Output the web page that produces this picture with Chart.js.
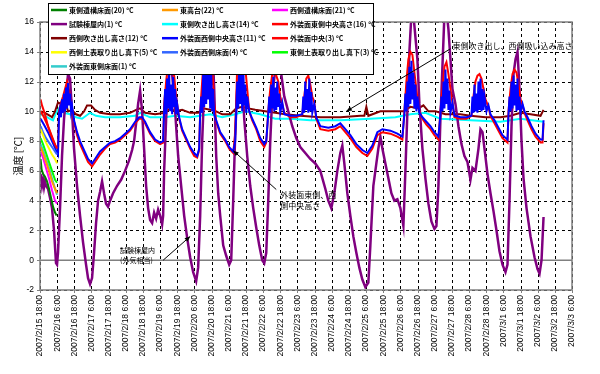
<!DOCTYPE html>
<html>
<head>
<meta charset="utf-8">
<script src="https://cdn.jsdelivr.net/npm/chart.js@4/dist/chart.umd.min.js"></script>
<style>
  html, body { margin: 0; padding: 0; background: #fff; }
  #wrap { width: 600px; height: 374px; }
</style>
</head>
<body>
<div id="wrap"><canvas id="chart" width="600" height="374"></canvas></div>
<script>
// x = hours since 2007/2/15 18:00, y = temperature in degC

const tickLabels = [
  '2007/2/15 18:00', '2007/2/16 6:00', '2007/2/16 18:00', '2007/2/17 6:00', '2007/2/17 18:00',
  '2007/2/18 6:00', '2007/2/18 18:00', '2007/2/19 6:00', '2007/2/19 18:00', '2007/2/20 6:00',
  '2007/2/20 18:00', '2007/2/21 6:00', '2007/2/21 18:00', '2007/2/22 6:00', '2007/2/22 18:00',
  '2007/2/23 6:00', '2007/2/23 18:00', '2007/2/24 6:00', '2007/2/24 18:00', '2007/2/25 6:00',
  '2007/2/25 18:00', '2007/2/26 6:00', '2007/2/26 18:00', '2007/2/27 6:00', '2007/2/27 18:00',
  '2007/2/28 6:00', '2007/2/28 18:00', '2007/3/1 6:00', '2007/3/1 18:00', '2007/3/2 6:00',
  '2007/3/2 18:00', '2007/3/3 6:00'
];
const yTicks = [-2, 0, 2, 4, 6, 8, 10, 12, 14, 16];

const seriesNames = [
  '東側遺構床面(20) °C', '東高台(22) °C', '西側遺構床面(21) °C',
  '試験棟屋内(1) °C', '東側吹き出し高さ(14) °C', '外装面東側中央高さ(16) °C',
  '西側吹き出し高さ(12) °C', '外装面西側中央高さ(11) °C', '外装面中央(3) °C',
  '西側土表取り出し真下(5) °C', '外装面西側床面(4) °C', '東側土表取り出し真下(3) °C',
  '外装面東側床面(1) °C'
];

const eastFloor = [[0.4,6.8],[1.1,6.1],[2.1,5.8],[3.5,5.6],[4.9,5.3],[6.3,4.8],[7.7,4.2],[9.1,3.6],[10.5,3.2],[11.6,3.0]];
const eastHigh = [[0.4,7.6],[2.1,7.2],[4.2,6.6],[6.3,6.0],[8.4,5.3],[10.5,4.8],[11.9,4.5]];
const westFloor = [[0.4,7.3],[2.1,6.9],[4.2,6.2],[6.3,5.5],[8.4,4.7],[10.5,4.0],[11.9,3.8]];

const indoor = [
  [0.4,5.8],[1.4,5.0],[2.1,5.4],[2.8,4.9],[3.5,5.3],[4.2,5.0],[5.6,4.8],[7.0,4.2],[8.4,3.5],[9.8,2.0],
  [11.2,-0.2],[11.9,-0.3],[12.6,0.5],[14.0,3.5],[15.4,7.0],[16.8,9.5],[18.2,11.0],[19.6,12.5],[21.0,12.2],
  [22.4,10.0],[23.8,7.5],[25.9,5.0],[28.0,3.0],[30.1,1.2],[32.2,-0.3],[33.6,-1.2],[35.0,-1.6],[36.4,-1.2],
  [37.8,0.5],[39.2,2.5],[40.6,4.0],[42.0,4.6],[43.4,5.3],[44.8,4.5],[46.2,3.8],[47.6,3.6],[49.0,4.0],
  [51.1,4.5],[53.9,5.0],[56.7,5.4],[59.5,6.0],[62.3,6.7],[64.4,7.4],[65.8,8.0],[67.2,9.2],[68.6,10.5],
  [70.0,11.4],[71.4,10.0],[72.8,7.5],[74.2,5.0],[75.6,3.5],[77.0,2.7],[78.4,2.5],[79.8,3.2],[81.2,2.8],
  [82.6,3.4],[84.0,3.0],[85.4,2.4],[86.1,3.0],[86.8,6.0],[88.2,9.5],[89.6,12.0],[91.0,13.0],[92.4,12.5],
  [94.5,10.0],[96.6,7.0],[98.7,5.0],[100.8,3.0],[102.9,1.5],[105.0,0.2],[107.1,-0.8],[109.2,-1.4],
  [110.6,-0.5],[112.0,3.0],[113.4,8.0],[114.8,11.5],[116.2,13.5],[117.6,15.0],[119.0,15.8],[120.4,15.0],
  [121.8,11.5],[123.2,7.0],[124.6,4.5],[126.0,3.0],[128.1,1.0],[130.2,0.3],[132.3,-0.3],[133.7,0.0],
  [135.1,4.0],[136.5,8.5],[137.9,11.5],[140.0,12.8],[141.4,12.0],[142.8,9.5],[144.9,7.0],[147.0,5.0],
  [149.1,3.5],[151.2,2.2],[153.3,1.0],[155.4,0.0],[156.8,-0.2],[158.2,0.5],[159.6,4.0],[161.0,8.0],
  [162.4,11.0],[164.5,12.8],[166.6,13.5],[168.7,12.5],[170.8,11.0],[173.6,10.0],[176.4,9.0],[179.2,8.2],
  [182.0,7.6],[185.5,7.2],[189.0,6.8],[192.5,6.5],[196.0,6.0],[199.5,4.8],[201.6,4.0],[203.7,3.5],
  [205.8,4.5],[207.9,6.0],[210.0,7.2],[211.4,7.7],[212.8,6.5],[214.9,4.5],[217.0,3.0],[219.1,1.6],
  [221.2,0.5],[223.3,-0.5],[225.4,-1.3],[227.5,-1.8],[229.6,-1.5],[231.0,1.0],[233.1,5.0],[235.2,6.5],
  [236.6,7.5],[238.0,8.3],[239.4,7.5],[241.5,6.5],[243.6,5.5],[245.7,4.5],[247.8,4.0],[249.9,4.1],
  [252.0,3.5],[254.1,2.3],[255.5,6.0],[256.9,10.0],[258.3,14.0],[259.7,16.5],[261.1,16.5],[262.5,15.0],
  [263.9,13.5],[265.3,10.5],[267.4,7.5],[269.5,5.5],[271.6,3.8],[273.7,2.6],[275.8,2.1],[277.2,2.3],
  [278.6,5.0],[280.0,9.5],[281.4,13.0],[282.8,16.5],[284.2,16.8],[285.6,15.5],[287.0,13.5],[288.4,11.5],
  [290.5,10.5],[292.6,9.0],[294.7,7.8],[296.8,7.0],[298.9,6.6],[300.3,5.8],[301.0,5.4],[302.4,6.2],
  [304.5,6.0],[306.6,7.5],[308.0,8.8],[309.4,8.6],[310.8,7.5],[312.9,5.8],[315.0,4.5],[317.1,3.3],
  [319.2,2.0],[321.3,0.6],[323.4,-0.3],[325.5,-0.8],[326.9,-0.3],[328.3,4.0],[329.7,9.0],[331.1,12.5],
  [332.5,13.5],[333.9,14.0],[335.3,11.5],[336.7,8.0],[338.1,5.5],[340.2,3.5],[343.0,1.6],[345.8,0.2],
  [347.9,-0.6],[349.3,-0.9],[350.7,0.0],[352.1,2.9]
];

const eastOutlet = [
  [0.4,9.8],[3.5,9.7],[7.0,9.5],[9.1,9.4],[11.2,9.9],[14.0,10.3],[16.8,9.9],[21.0,9.8],[25.2,9.6],
  [29.4,9.5],[35.0,9.9],[39.2,9.7],[45.5,9.6],[56.0,9.6],[66.5,9.7],[70.0,9.9],[77.0,9.6],[87.5,9.6],
  [94.5,9.7],[105.0,9.6],[112.0,9.7],[119.0,9.8],[127.4,9.6],[136.5,9.8],[143.5,10.0],[154.0,9.8],
  [164.5,9.5],[175.0,9.5],[189.0,9.4],[210.0,9.4],[231.0,9.5],[248.5,9.6],[259.0,9.8],[269.5,9.9],
  [280.0,9.5],[301.0,9.4],[322.0,9.3],[336.0,9.5],[352.1,9.3]
];

const outerEastMid = [
  [0.4,10.0],[2.8,9.6],[5.6,9.0],[8.4,8.3],[11.2,7.6],[12.6,7.5],[13.3,10.0],[14.7,10.6],[16.1,11.0],
  [17.5,11.5],[18.9,12.0],[20.3,11.4],[21.7,10.6],[22.4,10.2],[23.8,9.3],[25.9,8.4],[28.0,7.8],[30.8,7.2],
  [33.6,6.6],[36.4,6.3],[38.5,6.6],[42.0,7.1],[45.5,7.5],[49.0,7.8],[52.5,7.9],[56.0,8.1],[59.5,8.4],
  [63.0,8.7],[66.5,9.2],[69.3,9.5],[71.4,9.5],[73.5,9.2],[77.0,8.5],[80.5,8.0],[84.0,7.8],[86.1,7.9],
  [86.8,10.5],[88.2,12.0],[89.6,13.2],[91.0,13.6],[92.4,12.8],[93.8,12.4],[95.2,11.0],[96.6,10.0],
  [97.3,9.5],[99.4,8.7],[102.2,8.1],[105.0,7.5],[107.8,7.0],[109.9,6.9],[111.3,7.4],[112.0,10.0],
  [113.4,12.0],[114.8,14.0],[116.2,15.2],[117.6,15.8],[119.0,14.6],[120.4,13.0],[121.8,10.5],[123.2,9.3],
  [126.0,8.5],[129.5,8.0],[132.3,7.5],[135.1,7.2],[136.5,8.5],[137.9,13.0],[139.3,15.5],[140.7,16.5],
  [142.1,15.0],[143.5,13.0],[144.9,11.5],[146.3,10.0],[148.4,9.4],[151.2,8.8],[154.0,8.0],[156.8,7.6],
  [158.2,7.9],[159.6,10.0],[161.0,11.5],[162.4,12.5],[163.8,12.8],[165.2,12.4],[166.6,12.0],[168.0,11.0],
  [169.4,10.5],[170.8,9.9],[175.0,9.6],[179.2,9.6],[183.4,9.8],[184.8,11.0],[186.2,12.2],[187.6,12.4],
  [189.0,11.8],[190.4,11.0],[191.8,10.6],[193.2,9.5],[196.0,8.8],[201.6,8.7],[206.5,8.8],[210.0,9.0],
  [213.5,8.6],[217.0,8.2],[221.2,7.6],[225.4,7.2],[228.9,7.0],[232.4,7.5],[235.9,8.4],[239.4,8.6],
  [245.0,8.5],[249.9,8.3],[253.4,8.1],[254.8,10.0],[256.2,12.0],[257.6,13.5],[259.0,14.0],[260.4,13.8],
  [261.8,12.6],[263.2,11.5],[264.6,10.2],[267.4,9.5],[270.2,9.1],[273.0,8.8],[275.8,8.4],[278.6,8.1],
  [280.0,10.0],[281.4,11.5],[282.8,13.0],[284.2,13.3],[285.6,12.5],[287.0,11.5],[288.4,10.6],[289.8,9.6],
  [294.0,9.5],[298.2,9.5],[301.7,9.7],[303.1,11.0],[304.5,12.0],[305.9,12.4],[307.3,12.5],[308.7,12.2],
  [310.1,11.5],[311.5,10.8],[313.6,10.3],[315.0,9.7],[317.8,9.2],[320.6,8.7],[323.4,8.2],[326.9,7.9],
  [327.6,10.0],[329.0,11.5],[330.4,12.5],[331.8,12.8],[333.2,12.6],[334.6,11.8],[336.0,10.8],[337.4,10.4],
  [338.8,9.9],[340.9,9.4],[343.7,8.8],[346.5,8.3],[350.0,7.9],[351.4,7.9],[352.1,9.2]
];

const westOutlet = [
  [0.4,10.0],[3.5,9.9],[7.0,9.7],[8.4,9.6],[10.5,10.0],[12.6,10.6],[14.7,10.5],[16.1,10.2],[18.2,10.5],
  [19.6,10.0],[22.4,10.1],[25.2,9.8],[28.0,9.7],[30.8,10.0],[32.9,10.4],[35.7,10.4],[38.5,10.1],[42.0,9.9],
  [49.0,9.8],[56.0,9.8],[63.0,9.9],[67.2,10.1],[70.0,10.2],[73.5,9.9],[80.5,9.8],[87.5,9.9],[91.0,10.2],
  [94.5,10.0],[99.4,10.1],[105.0,9.9],[110.6,9.9],[114.1,10.2],[119.0,10.1],[123.2,10.0],[127.4,9.8],
  [133.0,9.8],[137.2,10.2],[141.4,10.3],[145.6,10.2],[150.5,10.1],[157.5,10.0],[164.5,9.9],[171.5,9.8],
  [182.0,9.7],[196.0,9.6],[210.0,9.6],[224.0,9.7],[226.8,9.7],[228.2,10.3],[229.6,9.7],[238.0,10.0],
  [248.5,10.0],[254.1,10.0],[259.0,10.3],[264.6,10.2],[268.1,10.4],[271.6,10.0],[276.5,10.0],[283.5,9.8],
  [294.0,9.8],[301.0,9.7],[311.5,9.6],[322.0,9.6],[329.0,9.7],[336.0,9.9],[343.0,9.8],[350.0,9.7],[352.1,10.1]
];

const outerWestMid = [
  [0.4,9.5],[2.8,9.1],[5.6,8.6],[8.4,8.0],[11.2,7.4],[12.6,7.1],[13.3,9.8],[14.0,10.2],[14.7,9.6],
  [15.4,10.8],[16.1,9.9],[16.8,11.2],[17.5,10.0],[18.2,11.6],[18.9,10.2],[19.6,11.9],[20.3,10.4],
  [21.0,11.2],[21.7,10.0],[22.4,10.4],[23.8,9.4],[25.9,8.6],[28.0,8.0],[30.8,7.4],[33.6,6.8],[36.4,6.5],
  [38.5,6.8],[42.0,7.3],[45.5,7.6],[49.0,7.9],[52.5,8.0],[56.0,8.2],[59.5,8.5],[63.0,8.8],[66.5,9.3],
  [69.3,9.6],[71.4,9.6],[73.5,9.3],[77.0,8.6],[80.5,8.1],[84.0,7.9],[86.1,8.0],[86.8,10.0],[87.5,11.5],
  [88.2,9.8],[88.9,12.2],[89.6,10.2],[90.3,12.6],[91.0,10.0],[91.7,11.8],[92.4,9.8],[93.1,12.3],
  [93.8,10.3],[94.5,11.5],[95.2,9.8],[95.9,10.5],[97.3,9.6],[99.4,8.8],[102.2,8.2],[105.0,7.6],
  [107.8,7.2],[109.9,7.0],[111.3,7.5],[112.0,9.8],[112.7,11.0],[113.4,9.9],[114.1,12.5],[114.8,10.3],
  [115.5,13.4],[116.2,10.5],[116.9,14.0],[117.6,10.8],[118.3,13.2],[119.0,10.2],[119.7,12.8],[120.4,10.0],
  [121.1,11.5],[121.8,9.8],[123.2,9.4],[126.0,8.6],[129.5,8.1],[132.3,7.6],[135.1,7.3],[136.5,8.0],
  [137.2,10.0],[137.9,12.0],[138.6,10.2],[139.3,13.0],[140.0,10.5],[140.7,12.6],[141.4,10.0],[142.1,13.2],
  [142.8,10.4],[143.5,11.8],[144.2,9.9],[144.9,11.0],[146.3,10.0],[148.4,9.5],[151.2,8.9],[154.0,8.2],
  [156.8,7.8],[158.2,8.0],[159.6,9.8],[160.3,11.0],[161.0,9.9],[161.7,11.8],[162.4,10.2],[163.1,12.3],
  [163.8,10.0],[164.5,11.6],[165.2,10.1],[165.9,12.0],[166.6,10.3],[167.3,11.2],[168.0,9.9],[169.4,10.6],
  [170.8,9.8],[175.0,9.7],[179.2,9.7],[183.4,9.8],[184.1,11.0],[184.8,9.9],[185.5,12.0],[186.2,10.1],
  [186.9,11.5],[187.6,9.9],[188.3,12.2],[189.0,10.0],[189.7,11.3],[190.4,9.9],[191.8,10.5],[193.2,9.6],
  [196.0,9.0],[201.6,8.9],[206.5,9.0],[210.0,9.2],[213.5,8.8],[217.0,8.4],[221.2,7.8],[225.4,7.4],
  [228.9,7.2],[232.4,7.7],[235.9,8.6],[239.4,8.8],[245.0,8.7],[249.9,8.5],[253.4,8.3],[254.8,9.8],
  [255.5,11.2],[256.2,10.0],[256.9,12.0],[257.6,10.3],[258.3,13.0],[259.0,10.5],[259.7,13.4],[260.4,10.8],
  [261.1,12.6],[261.8,10.2],[262.5,11.8],[263.2,10.0],[263.9,11.0],[265.3,9.9],[267.4,9.6],[270.2,9.3],
  [273.0,9.0],[275.8,8.6],[278.6,8.3],[280.0,9.8],[280.7,11.0],[281.4,10.0],[282.1,12.0],[282.8,10.2],
  [283.5,12.8],[284.2,10.5],[284.9,12.2],[285.6,10.1],[286.3,11.4],[287.0,9.9],[288.4,10.6],[289.8,9.7],
  [294.0,9.6],[298.2,9.6],[301.7,9.7],[302.4,11.0],[303.1,9.9],[303.8,11.8],[304.5,10.0],[305.2,11.2],
  [305.9,9.9],[306.6,12.0],[307.3,10.1],[308.0,12.2],[308.7,10.0],[309.4,11.5],[310.1,10.1],[310.8,11.0],
  [312.2,10.0],[313.6,10.4],[315.0,9.8],[317.8,9.4],[320.6,8.9],[323.4,8.4],[326.9,8.1],[327.6,9.8],
  [328.3,11.0],[329.0,10.0],[329.7,12.0],[330.4,10.2],[331.1,12.4],[331.8,10.4],[332.5,11.8],[333.2,10.0],
  [333.9,12.2],[334.6,10.1],[335.3,11.0],[336.0,9.9],[337.4,10.5],[338.8,10.0],[340.9,9.6],[343.7,9.0],
  [346.5,8.5],[350.0,8.1],[351.4,8.1],[352.1,9.4]
];

const outerMid = [[0.4,10.8],[1.4,10.4],[3.5,9.8],[5.6,9.0],[7.7,8.4],[9.8,7.9],[11.9,7.5]];
const westSoil = [[0.4,8.8],[2.1,8.4],[4.2,7.9],[6.3,7.5],[8.4,7.1],[10.5,6.8],[11.9,6.5]];
const outerWestFloor = [[0.4,9.0],[2.1,8.6],[4.2,8.2],[6.3,7.9],[8.4,7.6],[10.5,7.3],[11.9,7.1]];
const eastSoil = [[0.4,8.2],[2.1,7.8],[4.2,7.2],[6.3,6.6],[8.4,6.0],[10.5,5.4],[11.9,5.2]];
const outerEastFloor = [[0.4,7.8],[2.1,7.4],[4.2,6.8],[6.3,6.2],[8.4,5.5],[10.5,4.8],[11.9,4.4]];

const seriesData = [eastFloor, eastHigh, westFloor, indoor, eastOutlet, outerEastMid, westOutlet,
  outerWestMid, outerMid, westSoil, outerWestFloor, eastSoil, outerEastFloor];
const colors = ['#008000', '#ff9900', '#ff00ff', '#800080', '#00ffff', '#ff0000', '#800000',
  '#0000ff', '#ff0000', '#ffff00', '#3366ff', '#00ff00', '#33cccc'];
const widths = [2, 2, 2, 2.5, 2, 2, 2, 2, 2, 2, 2, 2, 2];
// lower = drawn on top
const drawOrder = [0, 0, 0, 3, 5, 2, 4, 1, 0, 0, 0, 0, 0];

const notes = [
  { lines: ['東側吹き出し、西側吸い込み高さ'], at: [288.4, 14.4], from: [287, 14.2], to: [214.2, 10.0], size: 8 },
  { lines: ['外装面東側、西', '側中央高さ'], at: [168, 4.4], from: [165.2, 4.75], to: [135.1, 7.36], size: 8 },
  { lines: ['試験棟屋内', '(外気相当)'], at: [56, 0.67], from: [86.1, 0.0], to: [105, 1.6], size: 7 }
];

const JP = "'Noto Sans CJK JP', 'Noto Sans', sans-serif";

function arrow(ctx, x1, y1, x2, y2) {
  ctx.beginPath();
  ctx.moveTo(x1, y1);
  ctx.lineTo(x2, y2);
  ctx.stroke();
  const a = Math.atan2(y2 - y1, x2 - x1);
  ctx.beginPath();
  ctx.moveTo(x2, y2);
  ctx.lineTo(x2 - 6 * Math.cos(a - 0.4), y2 - 6 * Math.sin(a - 0.4));
  ctx.lineTo(x2 - 6 * Math.cos(a + 0.4), y2 - 6 * Math.sin(a + 0.4));
  ctx.closePath();
  ctx.fill();
}

const decorPlugin = {
  id: 'decor',
  beforeDatasetsDraw(chart) {
    const { ctx, chartArea: a, scales: { x, y } } = chart;
    ctx.save();
    ctx.strokeStyle = '#000';
    ctx.lineWidth = 1;
    ctx.setLineDash([3, 3]);
    x.ticks.forEach(t => {
      const px = Math.round(x.getPixelForValue(t.value)) + 0.5;
      ctx.beginPath(); ctx.moveTo(px, a.top); ctx.lineTo(px, a.bottom); ctx.stroke();
    });
    y.ticks.forEach(t => {
      if (t.value === 0) return;
      const py = Math.round(y.getPixelForValue(t.value)) + 0.5;
      ctx.beginPath(); ctx.moveTo(a.left, py); ctx.lineTo(a.right, py); ctx.stroke();
    });
    ctx.setLineDash([]);
    ctx.strokeStyle = '#808080';
    ctx.lineWidth = 1.5;
    const y0 = y.getPixelForValue(0);
    ctx.beginPath(); ctx.moveTo(a.left, y0); ctx.lineTo(a.right, y0); ctx.stroke();
    ctx.restore();
  },
  afterDatasetsDraw(chart) {
    const { ctx, chartArea: a, scales: { x, y } } = chart;
    ctx.save();
    ctx.strokeStyle = '#808080';
    ctx.lineWidth = 1.5;
    ctx.strokeRect(a.left, a.top, a.right - a.left, a.bottom - a.top);
    ctx.lineWidth = 1;
    x.ticks.forEach(t => {
      const px = Math.round(x.getPixelForValue(t.value)) + 0.5;
      ctx.beginPath(); ctx.moveTo(px, a.bottom); ctx.lineTo(px, a.bottom + 3); ctx.stroke();
    });
    y.ticks.forEach(t => {
      const py = Math.round(y.getPixelForValue(t.value)) + 0.5;
      ctx.beginPath(); ctx.moveTo(a.left - 3, py); ctx.lineTo(a.left, py); ctx.stroke();
    });

    ctx.strokeStyle = '#000';
    ctx.fillStyle = '#000';
    ctx.lineWidth = 1;
    notes.forEach(n => {
      arrow(ctx, x.getPixelForValue(n.from[0]), y.getPixelForValue(n.from[1]),
        x.getPixelForValue(n.to[0]), y.getPixelForValue(n.to[1]));
      ctx.font = n.size + 'px ' + JP;
      ctx.textAlign = 'left';
      ctx.textBaseline = 'middle';
      n.lines.forEach((s, i) => {
        ctx.fillText(s, x.getPixelForValue(n.at[0]), y.getPixelForValue(n.at[1]) + i * (n.size + 3));
      });
    });
    ctx.restore();
  },
  afterDraw(chart) {
    const ctx = chart.ctx;
    const box = { l: 48, t: 3, r: 373, b: 74 };
    const cols = [51, 162, 272];
    ctx.save();
    ctx.fillStyle = '#fff';
    ctx.fillRect(box.l, box.t, box.r - box.l, box.b - box.t);
    ctx.strokeStyle = '#000';
    ctx.lineWidth = 1;
    ctx.strokeRect(box.l + 0.5, box.t + 0.5, box.r - box.l, box.b - box.t);
    ctx.font = 'bold 7px ' + JP;
    ctx.textBaseline = 'middle';
    ctx.textAlign = 'left';
    seriesNames.forEach((name, i) => {
      const cx = cols[i % 3];
      const cy = 10 + Math.floor(i / 3) * 14.1;
      ctx.strokeStyle = colors[i];
      ctx.lineWidth = 2.5;
      ctx.beginPath(); ctx.moveTo(cx, cy); ctx.lineTo(cx + 16, cy); ctx.stroke();
      ctx.fillStyle = '#000';
      ctx.fillText(name, cx + 18, cy);
    });
    ctx.restore();
  }
};

Chart.defaults.font.family = "'Liberation Sans', Arial, sans-serif";
Chart.defaults.color = '#000';

new Chart(document.getElementById('chart'), {
  type: 'line',
  data: {
    datasets: seriesData.map((pts, i) => ({
      label: seriesNames[i],
      data: pts.map(([h, v]) => ({ x: h, y: v })),
      borderColor: colors[i],
      backgroundColor: colors[i],
      borderWidth: widths[i],
      pointRadius: 0,
      tension: 0,
      fill: false,
      order: drawOrder[i]
    }))
  },
  options: {
    responsive: false,
    animation: false,
    layout: { padding: { top: 22, right: 28, left: 0, bottom: 0 } },
    plugins: { legend: { display: false }, tooltip: { enabled: false } },
    scales: {
      x: {
        type: 'linear',
        min: 0,
        max: 372,
        grid: { display: false, drawTicks: false },
        border: { display: false },
        ticks: {
          stepSize: 12,
          autoSkip: false,
          minRotation: 90,
          maxRotation: 90,
          padding: 5,
          font: { size: 8.5 },
          callback: v => tickLabels[Math.round(v / 12)]
        },
        afterFit: s => { s.height = 84; }
      },
      y: {
        min: yTicks[0],
        max: yTicks[yTicks.length - 1],
        grid: { display: false, drawTicks: false },
        border: { display: false },
        ticks: { stepSize: 2, padding: 6, font: { size: 8.5 } },
        title: { display: true, text: '温度 [℃]', font: { size: 10, family: JP }, padding: { top: 12, bottom: 0 } },
        afterFit: s => { s.width = 40; }
      }
    }
  },
  plugins: [decorPlugin]
});
</script>
</body>
</html>
